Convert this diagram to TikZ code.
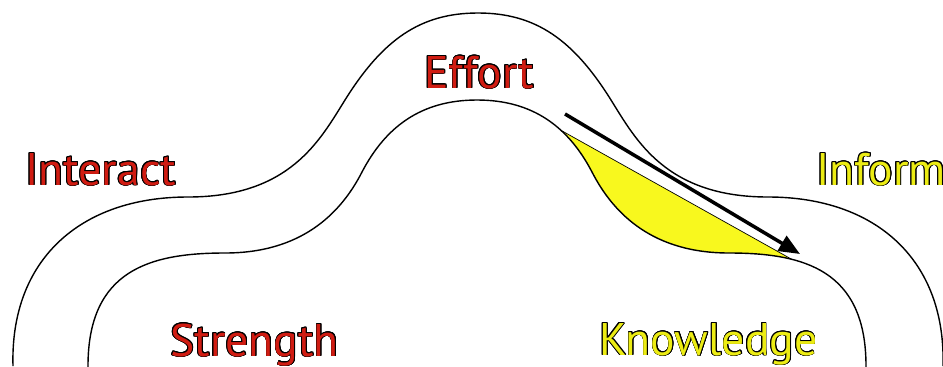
\documentclass[tikz,border=0pt]{standalone}
\usepackage{fontspec}
\setmainfont{PT Sans}
\usepackage{xcolor}
\usepackage{contour}
\usetikzlibrary{arrows.meta,backgrounds}
\definecolor{wordred}{RGB}{208,28,18}
\definecolor{wordyellow}{RGB}{236,236,20}
\definecolor{lensyellow}{RGB}{248,248,30}
\contourlength{0.45pt}
\tikzset{
  bankword/.style={anchor=base west,inner sep=0pt,font=\fontsize{26}{30}\selectfont},
  redword/.style={bankword,text=wordred},
  yellowword/.style={bankword,text=wordyellow}
}
\begin{document}
\begin{tikzpicture}[x=0.02cm,y=-0.02cm,line width=0.8pt,>={Triangle[length=0.42cm,width=0.34cm]}]
\useasboundingbox (0,0) rectangle (943,366);
% outer bank
\draw (13,366) .. controls (10,260) and (80,197) .. (188,197)
  .. controls (290,197) and (320,140) .. (345,100)
  .. controls (382.5,40) and (420,13) .. (478,13)
  .. controls (536,13) and (573.5,40) .. (611,100)
  .. controls (636,140) and (666,197) .. (768,197)
  .. controls (876,197) and (946,260) .. (943,366);
% inner bank
\filldraw[fill=white] (88,380) -- (88,366) .. controls (88,270) and (150,253) .. (225,253)
  .. controls (300,253) and (340,215) .. (362,172)
  .. controls (385,128) and (420,100) .. (477,100)
  .. controls (534,100) and (569,128) .. (592,172) coordinate[pos=0.63] (lensA)
  .. controls (614,215) and (654,253) .. (729,253)
  .. controls (804,253) and (866,270) .. (866,366) coordinate[pos=0.3] (lensB)
  -- (866,380) -- cycle;
\begin{pgfonlayer}{background}
\fill[lensyellow] (lensA) -- (lensB) -- (lensB |- 0,366) -- (lensA |- 0,366) -- cycle;
\end{pgfonlayer}
\draw (lensA) -- (lensB);
% flow
\coordinate (flowstart) at (565,114);
\coordinate (flowend) at (800,254);
\draw[->,line width=2pt] (flowstart) -- (flowend);
% words
\node[redword] (effort) at (424,88) {\contour{black}{Effort}};
\node[redword] (interact) at (25,185) {\contour{black}{Interact}};
\node[redword] (strength) at (170,356) {\contour{black}{Strength}};
\node[yellowword] (inform) at (816,185) {\contour{black}{Inform}};
\node[yellowword] (knowledge) at (599,355) {\contour{black}{Knowledge}};
\end{tikzpicture}
\end{document}
